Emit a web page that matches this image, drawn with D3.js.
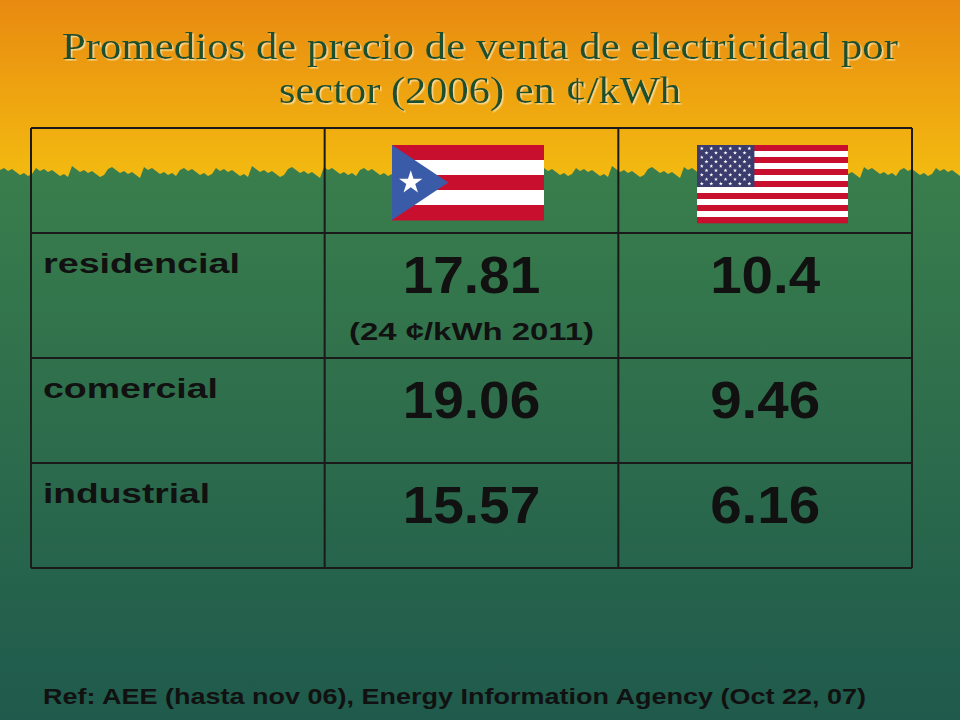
<!DOCTYPE html>
<html lang="es">
<head>
  <meta charset="UTF-8" />
  <title>Promedios de precio de venta de electricidad</title>
  <script src="https://d3js.org/d3.v7.min.js"></script>
  <style>
    body {margin: 0; background: #2a6a4a;}
    svg {display: block;}
  </style>
</head>
<body>
<script>
  const titleLines = ["Promedios de precio de venta de electricidad por", "sector (2006) en ¢/kWh"];
  const sectors = ["residencial", "comercial", "industrial"];
  const puertoRico = ["17.81", "19.06", "15.57"];
  const usa = ["10.4", "9.46", "6.16"];
  const notes = ["(24 ¢/kWh 2011)", "", ""];
  const refText = "Ref: AEE (hasta nov 06), Energy Information Agency (Oct 22, 07)";

  const width = 960, height = 720;
  const sans = "Liberation Sans, Arial, sans-serif";
  const svg = d3.select("body").append("svg").attr("width", width).attr("height", height);
  const defs = svg.append("defs");

  //****BACKGROUND****
  const sky = defs.append("linearGradient").attr("id", "sky").attr("x1", 0).attr("y1", 0).attr("x2", 0).attr("y2", 1);
  sky.append("stop").attr("offset", "0%").attr("stop-color", "#e88a10");
  sky.append("stop").attr("offset", "100%").attr("stop-color", "#f4be10");
  const grass = defs.append("linearGradient").attr("id", "grass").attr("x1", 0).attr("y1", 0).attr("x2", 0).attr("y2", 1);
  grass.append("stop").attr("offset", "0%").attr("stop-color", "#3a7e4c");
  grass.append("stop").attr("offset", "100%").attr("stop-color", "#1f5a4c");
  const shadow = defs.append("filter").attr("id", "shadow");
  shadow.append("feDropShadow").attr("dx", 1.5).attr("dy", 1.5).attr("stdDeviation", 0.6)
        .attr("flood-color", "#f8e0a0").attr("flood-opacity", 0.9);

  svg.append("rect").attr("width", width).attr("height", 190).attr("fill", "url(#sky)");
  const edge = d3.range(0, width + 4, 4).map((x, i) => [x, 174 + ((i * 37) % 9) - 4 - ((i * 13) % 5)]);
  const area = d3.area().x(d => d[0]).y0(height).y1(d => d[1]);
  svg.append("path").attr("d", area(edge)).attr("fill", "url(#grass)");

  //****TITLE****
  const titleWidths = [836, 402];
  const title = svg.append("g").attr("font-family", "Liberation Serif, serif").attr("font-size", 38)
                   .attr("text-anchor", "middle").attr("fill", "#1e4f2e").attr("filter", "url(#shadow)");
  titleLines.forEach((t, i) => {
    title.append("text").attr("x", 480).attr("y", 59 + i * 44)
         .attr("textLength", titleWidths[i]).attr("lengthAdjust", "spacingAndGlyphs").text(t);
  });

  //****TABLE****
  const x = d3.scaleLinear().domain([0, 3]).range([31, 912]);
  const rowEdges = [128, 233, 358, 463, 568];
  const table = svg.append("g").attr("fill", "none").attr("stroke", "#1a1a1a").attr("stroke-width", 2);
  rowEdges.forEach(y => table.append("line").attr("x1", x(0)).attr("x2", x(3)).attr("y1", y).attr("y2", y));
  d3.range(4).forEach(c => table.append("line").attr("x1", x(c)).attr("x2", x(c)).attr("y1", rowEdges[0]).attr("y2", rowEdges[4]));

  const labelWidths = [197, 175, 167];
  sectors.forEach((s, i) => {
    const top = rowEdges[i + 1];
    svg.append("text").attr("x", x(0) + 12).attr("y", top + 40)
       .attr("font-family", sans).attr("font-weight", "bold")
       .attr("font-size", 27).attr("fill", "#111")
       .attr("textLength", labelWidths[i]).attr("lengthAdjust", "spacingAndGlyphs").text(s);
    [puertoRico[i], usa[i]].forEach((v, j) => {
      svg.append("text").attr("x", (x(j + 1) + x(j + 2)) / 2).attr("y", top + 60)
         .attr("text-anchor", "middle").attr("font-family", sans)
         .attr("font-weight", "bold").attr("font-size", 52).attr("fill", "#111")
         .attr("textLength", v.length * 27.5).attr("lengthAdjust", "spacingAndGlyphs").text(v);
    });
    if (notes[i]) {
      svg.append("text").attr("x", (x(1) + x(2)) / 2).attr("y", top + 107)
         .attr("text-anchor", "middle").attr("font-family", sans)
         .attr("font-weight", "bold").attr("font-size", 24).attr("fill", "#111")
         .attr("textLength", 245).attr("lengthAdjust", "spacingAndGlyphs").text(notes[i]);
    }
  });

  //****FLAGS****
  const red = "#c8102e", white = "#ffffff", blue = "#3a5ba8", navy = "#3c3b6e";
  const pr = svg.append("g").attr("transform", "translate(392,145)");
  const prW = 152, prH = 75;
  d3.range(5).forEach(k => pr.append("rect").attr("y", k * prH / 5).attr("width", prW).attr("height", prH / 5 + 0.5)
                             .attr("fill", k % 2 ? white : red));
  pr.append("path").attr("d", `M0,0L${prH * 0.75},${prH / 2}L0,${prH}Z`).attr("fill", blue);
  const star = d3.symbol().type(d3.symbolStar).size(170);
  pr.append("path").attr("d", star()).attr("transform", `translate(${prH * 0.25},${prH / 2})`).attr("fill", white);

  const us = svg.append("g").attr("transform", "translate(697,145)");
  const usW = 151, usH = 78;
  d3.range(13).forEach(k => us.append("rect").attr("y", k * usH / 13).attr("width", usW).attr("height", usH / 13 + 0.3)
                              .attr("fill", k % 2 ? white : red));
  us.append("rect").attr("width", usW * 0.38).attr("height", usH * 7 / 13).attr("fill", navy);
  const starSmall = d3.symbol().type(d3.symbolStar).size(5);
  d3.range(9).forEach(r => {
    const n = r % 2 ? 5 : 6;
    d3.range(n).forEach(c => {
      const sx = (r % 2 ? 9.5 : 4.8) + c * 9.5;
      const sy = 3.5 + r * 4.4;
      us.append("path").attr("d", starSmall()).attr("transform", `translate(${sx},${sy})`).attr("fill", white);
    });
  });

  //****REFERENCE****
  svg.append("text").attr("x", 43).attr("y", 704).attr("font-family", sans)
     .attr("font-weight", "bold").attr("font-size", 22).attr("fill", "#111")
     .attr("textLength", 823).attr("lengthAdjust", "spacingAndGlyphs").text(refText);
</script>
</body>
</html>
